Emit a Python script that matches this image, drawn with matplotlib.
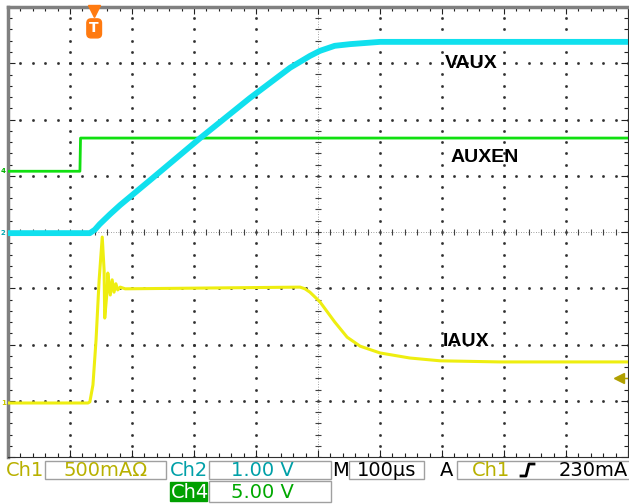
#!/usr/bin/env python3
"""示波器截图复刻 - VAUX / AUXEN / IAUX 上电波形"""
import matplotlib
matplotlib.use("Agg")
import matplotlib.pyplot as plt
from matplotlib.patches import Rectangle
from matplotlib.ticker import MultipleLocator
import numpy as np

# ===== 数据 (单位: 格, x 0..10, y 0..8) =====
iaux_x = [0, 1.29, 1.32, 1.37, 1.42, 1.47, 1.52, 1.55, 1.56, 1.60, 1.61, 1.65, 1.68,
          1.71, 1.74, 1.77, 1.81, 1.89, 4.71, 4.79, 4.87, 5.03, 5.27, 5.47, 5.68,
          6.00, 6.48, 6.97, 7.94, 10.0]
iaux_y = [0.96, 0.96, 0.98, 1.28, 2.08, 3.15, 3.91, 3.32, 2.47, 2.97, 3.27, 2.88, 3.15,
          2.93, 3.08, 2.97, 3.02, 2.99, 3.02, 2.99, 2.93, 2.76, 2.40, 2.13, 1.97,
          1.85, 1.76, 1.71, 1.69, 1.69]

vaux_x = [0, 1.32, 1.40, 1.48, 1.65, 1.81, 2.29, 3.10, 3.90, 4.55, 4.87, 5.03, 5.27,
          5.52, 6.00, 10.0]
vaux_y = [3.98, 3.98, 4.04, 4.14, 4.32, 4.48, 4.92, 5.67, 6.38, 6.92, 7.13, 7.22, 7.31,
          7.34, 7.38, 7.38]

auxen_x = [0, 1.16, 1.17, 10.0]
auxen_y = [5.08, 5.08, 5.67, 5.67]

trig_x = 1.39        # 触发位置
trig_level = 1.40    # Ch1 触发电平
ch_marks = {"1": (0.96, "#c8c800"), "2": (3.98, "#00a8b0"), "4": (5.08, "#00b000")}

labels = [("VAUX", 7.05, 6.99), ("AUXEN", 7.13, 5.32), ("IAUX", 7.02, 2.06)]

YEL, CYA, GRN = "#eeee10", "#10e0ee", "#10e010"
YEL_T, CYA_T, GRN_T = "#b8b000", "#00a0a8", "#00a800"

W, H = 629, 504
fig = plt.figure(figsize=(W / 100, H / 100), dpi=100)
ax = fig.add_axes([8 / W, (H - 457) / H, 620 / W, 450 / H])
ax.set_xlim(0, 10)
ax.set_ylim(0, 8)

# ----- 网格 -----
gx = np.arange(0, 10.01, 0.2)
gy = np.arange(0, 8.01, 0.2)
for i in range(1, 10):
    if i == 5:
        continue
    ax.plot(np.full_like(gy, i), gy, ls="none", marker="s", ms=0.9, color="#303030", zorder=1)
for j in range(1, 8):
    if j == 4:
        continue
    ax.plot(gx, np.full_like(gx, j), ls="none", marker="s", ms=0.9, color="#303030", zorder=1)
# 中心十字
ax.axvline(5, ls=(0, (1, 2)), lw=0.6, color="#808080", zorder=1)
ax.axhline(4, ls=(0, (1, 2)), lw=0.6, color="#808080", zorder=1)
ax.plot(np.full_like(gy, 5), gy, ls="none", marker="_", ms=5, mew=0.8, color="#404040", zorder=1)
ax.plot(gx, np.full_like(gx, 4), ls="none", marker="|", ms=5, mew=0.8, color="#404040", zorder=1)

# ----- 波形 -----
ax.plot(auxen_x, auxen_y, color=GRN, lw=2.0, zorder=3)
ax.plot(vaux_x, vaux_y, color=CYA, lw=4.2, zorder=4, solid_joinstyle="round")
ax.plot(iaux_x, iaux_y, color=YEL, lw=2.2, zorder=5)

for text, x, y in labels:
    ax.text(x, y, text, fontsize=14, fontweight="bold", family="Liberation Sans",
            ha="left", va="center", color="black", zorder=6)

# 触发标记
ax.plot([trig_x], [7.93], marker="v", ms=8, color="#ff7a10", clip_on=False, zorder=7)
ax.text(trig_x, 7.62, "T", fontsize=10, fontweight="bold", color="white", ha="center",
        va="center", zorder=7,
        bbox=dict(boxstyle="round,pad=0.18,rounding_size=0.3", fc="#ff7a10", ec="#ff7a10"))
ax.plot([9.85], [trig_level], marker="<", ms=7, color="#b0a000", clip_on=False, zorder=7)
ax.plot([9.85, 10.0], [trig_level, trig_level], color="#b0a000", lw=1, zorder=7)

# 通道零点标记
for ch, (y, c) in ch_marks.items():
    ax.text(-0.075, y, ch, fontsize=5, fontweight="bold", color=c, ha="center", va="center",
            clip_on=False)

# ----- 边框 / 刻度 -----
for s in ("left", "top"):
    ax.spines[s].set_color("#808080")
    ax.spines[s].set_linewidth(2.5)
for s in ("right", "bottom"):
    ax.spines[s].set_color("#303030")
    ax.spines[s].set_linewidth(0.8)
ax.xaxis.set_major_locator(MultipleLocator(1))
ax.yaxis.set_major_locator(MultipleLocator(1))
ax.xaxis.set_minor_locator(MultipleLocator(0.2))
ax.yaxis.set_minor_locator(MultipleLocator(0.2))
ax.tick_params(which="both", direction="in", top=True, right=True, labelbottom=False,
               labelleft=False, color="#202020", width=0.8)
ax.tick_params(which="major", length=5)
ax.tick_params(which="minor", length=3)

# ----- 状态栏 -----
def fx(px):
    return px / W

def fy(py):
    return 1 - py / H

def box(x0, x1, y0, y1, fc="white", ec="#a0a0a0"):
    fig.patches.append(Rectangle((fx(x0), fy(y1)), fx(x1) - fx(x0), fy(y0) - fy(y1),
                                 transform=fig.transFigure, fc=fc, ec=ec, lw=1))

def txt(px, py, s, color, ha="left", **kw):
    fig.text(fx(px), fy(py), s, color=color, ha=ha, va="center", fontsize=14,
             family="DejaVu Sans", **kw)

box(45, 166, 461, 479)
box(209, 331, 461, 479)
box(349, 424, 461, 479)
box(457, 640, 461, 479)
box(170, 207, 482, 501, fc="#00a000", ec="#00a000")
box(209, 331, 481, 502)

txt(6, 470, "Ch1", YEL_T)
txt(106, 470, "500mAΩ", YEL_T, ha="center")
txt(170, 470, "Ch2", CYA_T)
txt(262, 470, "1.00 V", CYA_T, ha="center")
txt(332, 470, "M", "black")
txt(387, 470, "100μs", "black", ha="center")
txt(440, 470, "A", "black")
txt(472, 470, "Ch1", YEL_T)
txt(628, 470, "230mA", "black", ha="right")
txt(171, 492, "Ch4", "white")
txt(262, 492, "5.00 V", GRN_T, ha="center")
# 上升沿符号
fig.add_artist(plt.Line2D([fx(521), fx(526), fx(529), fx(534)],
                          [fy(476), fy(476), fy(464), fy(464)],
                          transform=fig.transFigure, color="black", lw=2))

fig.savefig("out.png", dpi=100)
plt.close()
